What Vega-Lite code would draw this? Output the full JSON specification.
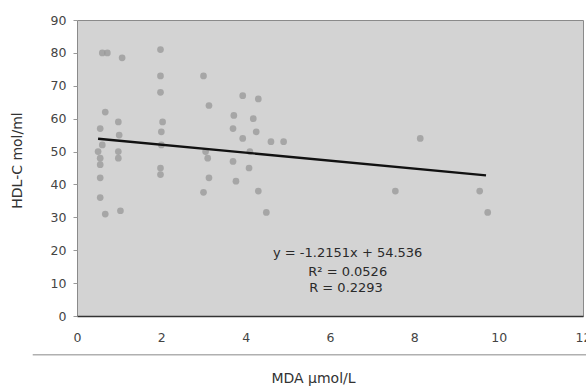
{
  "$schema": "https://vega.github.io/schema/vega-lite/v6.json",
  "autosize": "none",
  "width": 506,
  "height": 296,
  "padding": {"left": 77, "top": 20, "right": 3, "bottom": 71},
  "background": "white",
  "config": {
    "font": "DejaVu Sans",
    "view": {"fill": "#d3d3d3", "stroke": "#8a8a8a", "strokeWidth": 1}
  },
  "datasets": {
    "points": [
      {"mda": 0.6, "hdl": 80}, {"mda": 0.72, "hdl": 80}, {"mda": 1.07, "hdl": 78.5},
      {"mda": 1.98, "hdl": 81}, {"mda": 1.98, "hdl": 73}, {"mda": 1.98, "hdl": 68},
      {"mda": 0.67, "hdl": 62}, {"mda": 0.98, "hdl": 59}, {"mda": 2.03, "hdl": 59},
      {"mda": 0.55, "hdl": 57}, {"mda": 0.6, "hdl": 52}, {"mda": 0.98, "hdl": 50},
      {"mda": 0.98, "hdl": 48}, {"mda": 0.55, "hdl": 48}, {"mda": 0.55, "hdl": 46},
      {"mda": 0.55, "hdl": 42}, {"mda": 1.98, "hdl": 45}, {"mda": 1.98, "hdl": 43},
      {"mda": 0.55, "hdl": 36}, {"mda": 0.67, "hdl": 31}, {"mda": 1.03, "hdl": 32},
      {"mda": 1.0, "hdl": 55}, {"mda": 0.5, "hdl": 50}, {"mda": 2.0, "hdl": 52},
      {"mda": 2.0, "hdl": 56},
      {"mda": 3.0, "hdl": 73}, {"mda": 3.13, "hdl": 64}, {"mda": 3.93, "hdl": 67},
      {"mda": 4.3, "hdl": 66}, {"mda": 3.72, "hdl": 61}, {"mda": 4.18, "hdl": 60},
      {"mda": 3.7, "hdl": 57}, {"mda": 4.25, "hdl": 56}, {"mda": 3.93, "hdl": 54},
      {"mda": 3.1, "hdl": 48}, {"mda": 3.7, "hdl": 47}, {"mda": 4.08, "hdl": 45},
      {"mda": 3.13, "hdl": 42}, {"mda": 3.77, "hdl": 41}, {"mda": 3.0, "hdl": 37.6},
      {"mda": 4.3, "hdl": 38}, {"mda": 4.49, "hdl": 31.5}, {"mda": 4.6, "hdl": 53},
      {"mda": 4.9, "hdl": 53}, {"mda": 3.05, "hdl": 50}, {"mda": 4.1, "hdl": 50},
      {"mda": 8.14, "hdl": 54}, {"mda": 7.55, "hdl": 38}, {"mda": 9.55, "hdl": 38},
      {"mda": 9.74, "hdl": 31.5}
    ],
    "fit": [
      {"mda": 0.5, "hdl": 53.9},
      {"mda": 9.7, "hdl": 42.75}
    ],
    "notes": [
      {"mda": 6.42, "hdl": 19.1, "label": "y  =  -1.2151x  +  54.536"},
      {"mda": 6.42, "hdl": 13.3, "label": "R²  =  0.0526"},
      {"mda": 6.38, "hdl": 8.5, "label": "R  =  0.2293"}
    ],
    "divider": [
      {"k": "divider"}
    ]
  },
  "layer": [
    {
      "data": {"name": "points"},
      "mark": {"type": "circle", "size": 45, "color": "#979797", "opacity": 0.75},
      "encoding": {
        "x": {
          "field": "mda", "type": "quantitative",
          "scale": {"domain": [0, 12], "nice": false},
          "axis": {
            "values": [0, 2, 4, 6, 8, 10, 12],
            "grid": false, "ticks": false,
            "domainColor": "#333", "domainWidth": 1.5,
            "labelFontSize": 12.5, "labelColor": "#444", "labelPadding": 15,
            "labelFlush": false, "labelOverlap": false,
            "title": "MDA µmol/L", "titleFontSize": 14, "titleFontWeight": "normal",
            "titleColor": "#333", "titleX": 236, "titleY": 62,
            "titleBaseline": "middle", "titleAlign": "center"
          }
        },
        "y": {
          "field": "hdl", "type": "quantitative",
          "scale": {"domain": [0, 90], "nice": false},
          "axis": {
            "values": [0, 10, 20, 30, 40, 50, 60, 70, 80, 90],
            "tickCount": 10,
            "grid": false, "domain": false, "labelOverlap": false,
            "tickSize": 4, "tickColor": "#999",
            "labelFontSize": 12.5, "labelColor": "#444", "labelPadding": 7,
            "title": "HDL-C mol/ml", "titleFontSize": 14, "titleFontWeight": "normal",
            "titleColor": "#333", "titleX": -60, "titleY": 140, "titleAngle": -90,
            "titleBaseline": "middle", "titleAlign": "center"
          }
        }
      }
    },
    {
      "data": {"name": "divider"},
      "mark": {"type": "rule", "color": "#b0b0b0", "strokeWidth": 1.5, "clip": false},
      "encoding": {
        "x": {"datum": -1.05},
        "x2": {"datum": 12.1},
        "y": {"datum": -11.8}
      }
    },
    {
      "data": {"name": "fit"},
      "mark": {"type": "line", "color": "#111", "strokeWidth": 2.4},
      "encoding": {
        "x": {"field": "mda", "type": "quantitative"},
        "y": {"field": "hdl", "type": "quantitative"}
      }
    },
    {
      "data": {"name": "notes"},
      "mark": {"type": "text", "fontSize": 13, "color": "#2a2a2a", "align": "center", "baseline": "middle"},
      "encoding": {
        "x": {"field": "mda", "type": "quantitative"},
        "y": {"field": "hdl", "type": "quantitative"},
        "text": {"field": "label"}
      }
    }
  ]
}
